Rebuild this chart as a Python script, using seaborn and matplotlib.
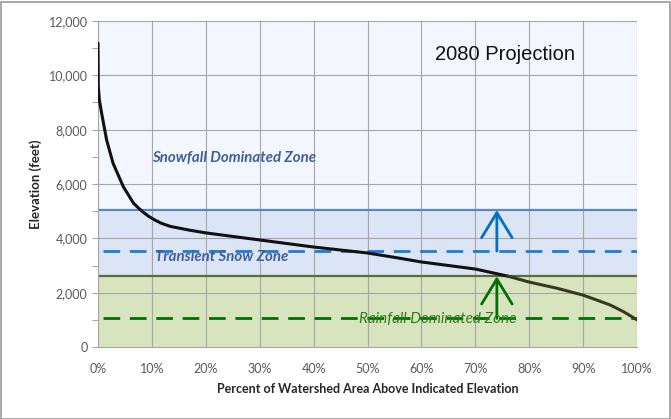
import matplotlib
matplotlib.use('Agg')
import matplotlib.pyplot as plt
import matplotlib.ticker as mticker
from matplotlib.patches import Rectangle
import seaborn as sns
import numpy as np

# hypsometric curve
procent = [0, 0.05, 0.25, 0.68, 1.6, 2.8, 4.7, 6.6, 7.6, 8.4, 9.4, 10.5, 11.8, 13.4, 17,
           20, 25, 30, 35, 40, 45, 50, 55, 60, 65, 70, 76, 80, 85, 90, 95, 97.5, 100]
wysokosc = [11180, 9600, 9100, 8600, 7620, 6760, 5900, 5290, 5100, 4960, 4810, 4680,
            4550, 4440, 4300, 4200, 4070, 3940, 3810, 3680, 3570, 3460, 3300, 3130,
            3000, 2870, 2610, 2390, 2170, 1910, 1550, 1300, 1000]

granica_sniegu = 5040      # snowfall dominated above
granica_deszczu = 2600     # rainfall dominated below
przejsciowa_stara = 3530   # dashed blue
deszczowa_stara = 1050     # dashed green
x_strzalki = 74

etykiety_x = ['0%', '10%', '20%', '30%', '40%', '50%', '60%', '70%', '80%', '90%', '100%']

sns.set_style('white')
plt.rcParams['font.family'] = ['Lato', 'DejaVu Sans']

fig = plt.figure(figsize=(6.71, 4.19), dpi=100)
ax = fig.add_axes([98 / 671, 72 / 419, 539 / 671, 326 / 419])

# zone backgrounds
ax.axhspan(granica_sniegu, 12000, color='#F3F6FC', zorder=0)
ax.axhspan(granica_deszczu, granica_sniegu, color='#DBE5F6', zorder=0)
ax.axhspan(0, granica_deszczu, color='#D7E4BD', zorder=0)

ax.set_axisbelow(False)
for xv in range(0, 101, 10):
    ax.axvline(xv, color='#A6A6A6', lw=0.8, zorder=1)
for yv in range(2000, 12001, 2000):
    ax.axhline(yv, color='#A6A6A6', lw=0.8, zorder=1)

# zone boundaries
ax.axhline(granica_sniegu, color='#5B86C8', lw=1.6, zorder=2)
ax.axhline(granica_deszczu, color='#5B6B3A', lw=1.6, zorder=2)
ax.plot([1, 100], [przejsciowa_stara] * 2, color='#1F7BCC', lw=2,
        dashes=(6, 3.5), zorder=2)
ax.plot([1, 100], [deszczowa_stara] * 2, color='#007000', lw=2,
        dashes=(6, 3.5), zorder=2)

# curve, darker olive where it crosses into the rain zone
p = np.array(procent)
w = np.array(wysokosc)
gora = p <= 76
dol = p >= 76
sns.lineplot(x=p[gora], y=w[gora], ax=ax, color='#111111', lw=2.2, sort=False, zorder=3)
sns.lineplot(x=p[dol], y=w[dol], ax=ax, color='#343A22', lw=2.2, sort=False, zorder=3)

# arrows
ax.annotate('', xy=(x_strzalki, granica_sniegu), xytext=(x_strzalki, przejsciowa_stara),
            arrowprops=dict(arrowstyle='->,head_length=0.9,head_width=0.55',
                            color='#0070C0', lw=2, mutation_scale=20,
                            shrinkA=0, shrinkB=0), zorder=4)
ax.annotate('', xy=(x_strzalki, granica_deszczu), xytext=(x_strzalki, deszczowa_stara),
            arrowprops=dict(arrowstyle='->,head_length=0.9,head_width=0.55',
                            color='#007000', lw=2, mutation_scale=20,
                            shrinkA=0, shrinkB=0), zorder=4)

# labels
ax.text(10, 6960, 'Snowfall Dominated Zone', fontsize=10.8, style='italic',
        fontweight='bold', color='#3F5E9B', va='center', ha='left', zorder=5)
ax.text(10.6, 3310, 'Transient Snow Zone', fontsize=10.8, style='italic',
        fontweight='bold', color='#3F5E9B', va='center', ha='left', zorder=5)
ax.text(48.5, 1030, 'Rainfall Dominated Zone', fontsize=11, style='italic',
        color='#2E7D1E', va='center', ha='left', zorder=5)
ax.text(75.5, 10750, '2080 Projection', fontsize=14.5, family=['Liberation Sans', 'DejaVu Sans'],
        color='#111111', va='center', ha='center', zorder=5)

ax.set_xlim(0, 100)
ax.set_ylim(0, 12000)
ax.set_xticks(range(0, 101, 10))
ax.set_xticklabels(etykiety_x)
ax.yaxis.set_major_locator(mticker.MultipleLocator(2000))
ax.yaxis.set_minor_locator(mticker.MultipleLocator(1000))
ax.yaxis.set_major_formatter(mticker.FuncFormatter(lambda v, _: f'{int(v):,}'))
ax.tick_params(axis='both', labelsize=9, colors='#595959', labelcolor='#595959')
ax.tick_params(axis='y', which='both', left=True, length=4, width=0.8, color='#A6A6A6')
ax.tick_params(axis='x', bottom=False, pad=8)

for s in ['top', 'right']:
    ax.spines[s].set_visible(False)
for s in ['left', 'bottom']:
    ax.spines[s].set_color('#A6A6A6')
    ax.spines[s].set_linewidth(0.8)

ax.set_xlabel('Percent of Watershed Area Above Indicated Elevation', fontsize=9,
              fontweight='bold', color='#262626', labelpad=6)
ax.set_ylabel('Elevation (feet)', fontsize=9.5, fontweight='bold', color='#262626',
              labelpad=5)

# outer frame like the screenshot edge
fig.patches.append(Rectangle((0.002, 0.0), 0.996, 0.995, transform=fig.transFigure,
                             fill=False, edgecolor='#9A9A9A', lw=1.2))

fig.savefig('out.png', dpi=100)
